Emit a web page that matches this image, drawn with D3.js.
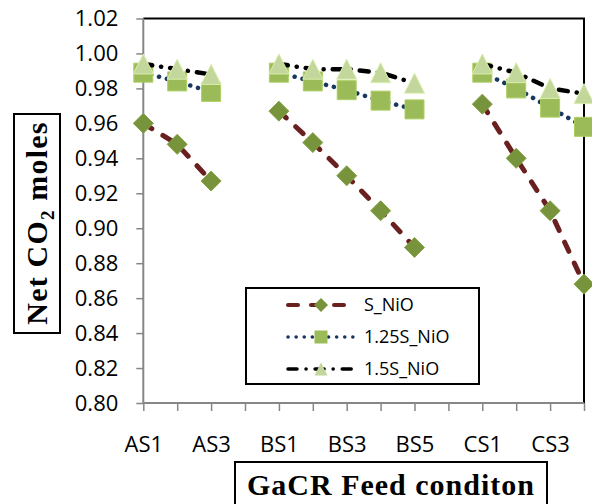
<!DOCTYPE html>
<html>
<head>
<meta charset="utf-8">
<script src="https://cdn.jsdelivr.net/npm/d3@7"></script>
<style>
  body { margin: 0; background: #fff; }
  svg { display: block; }
</style>
</head>
<body>
<div id="chart"></div>
<script>
// categories (blank slots separate the A, B and C groups)
const categories = ['AS1', 'AS2', 'AS3', '', 'BS1', 'BS2', 'BS3', 'BS4', 'BS5', ' ', 'CS1', 'CS2', 'CS3', 'CS4'];
const shownLabels = ['AS1', 'AS3', 'BS1', 'BS3', 'BS5', 'CS1', 'CS3'];
const sNiO = [0.960, 0.948, 0.927, null, 0.967, 0.949, 0.930, 0.910, 0.889, null, 0.971, 0.940, 0.910, 0.868];
const s125NiO = [0.989, 0.984, 0.978, null, 0.989, 0.984, 0.979, 0.973, 0.968, null, 0.989, 0.980, 0.969, 0.958];
const s15NiO = [0.994, 0.991, 0.988, null, 0.994, 0.991, 0.991, 0.989, 0.983, null, 0.994, 0.989, 0.980, 0.977];
const yTicks = [0.80, 0.82, 0.84, 0.86, 0.88, 0.90, 0.92, 0.94, 0.96, 0.98, 1.00, 1.02];

const w = 592;
const h = 504;
const plotLeft = 143.3, plotRight = 584, plotTop = 18.5, plotBottom = 403;

const svg = d3.select('#chart').append('svg')
  .attr('width', w)
  .attr('height', h);

const xScale = d3.scalePoint()
  .domain(categories)
  .range([plotLeft, plotRight])
  .padding(0);
const yScale = d3.scaleLinear()
  .domain([0.80, 1.02])
  .range([plotBottom, plotTop]);

// top and right border of the plot area
svg.append('path')
  .attr('d', `M${plotLeft},${plotTop}H${plotRight}V${plotBottom}`)
  .attr('fill', 'none')
  .attr('stroke', '#000')
  .attr('stroke-width', 2);

const xAxis = d3.axisBottom(xScale)
  .tickSize(8)
  .tickPadding(25)
  .tickFormat(d => shownLabels.includes(d) ? d : '');
const yAxis = d3.axisLeft(yScale)
  .tickValues(yTicks)
  .tickSize(7)
  .tickPadding(18)
  .tickFormat(d3.format('.2f'));

const gx = svg.append('g')
  .attr('transform', `translate(0, ${plotBottom})`)
  .call(xAxis);
const gy = svg.append('g')
  .attr('transform', `translate(${plotLeft}, 0)`)
  .call(yAxis);

[gx, gy].forEach(g => {
  g.select('.domain').attr('stroke', '#868686').attr('stroke-width', 2);
  g.selectAll('.tick line').attr('stroke', '#868686').attr('stroke-width', 1.5);
  g.selectAll('.tick text')
    .attr('fill', '#000')
    .style('font-family', '"Open Sans"')
    .style('font-size', '22px');
});
gx.select('.domain').attr('d', `M${plotLeft},0H${plotRight}`);
gy.select('.domain').attr('d', `M0,${plotBottom}V${plotTop}`);

const series = [
  { name: 'S_NiO', values: sNiO, stroke: '#6B2020', width: 5, dash: '10,13', marker: 'diamond', fill: '#77933C' },
  { name: '1.25S_NiO', values: s125NiO, stroke: '#17375E', width: 4.5, dash: '0.1,8', marker: 'square', fill: '#9BBB59' },
  { name: '1.5S_NiO', values: s15NiO, stroke: '#000', width: 4.5, dash: '9,9,0.1,9', marker: 'triangle', fill: '#C3D69B' }
];

function markerPath(type, s) {
  if (type === 'diamond') {
    return `M0,${-s}L${s},0L0,${s}L${-s},0Z`;
  }
  if (type === 'square') {
    return `M${-s},${-s}H${s}V${s}H${-s}Z`;
  }
  return `M0,${-s}L${s},${s}H${-s}Z`;
}

const line = d3.line()
  .defined(d => d.v != null)
  .x(d => xScale(d.c))
  .y(d => yScale(d.v));

series.forEach(s => {
  const pts = categories.map((c, i) => ({ c: c, v: s.values[i] }));
  const g = svg.append('g');
  g.append('path')
    .datum(pts)
    .attr('d', line)
    .attr('fill', 'none')
    .attr('stroke', s.stroke)
    .attr('stroke-width', s.width)
    .attr('stroke-linecap', 'round')
    .attr('stroke-dasharray', s.dash);
  const size = s.marker === 'diamond' ? 10 : (s.marker === 'square' ? 9.5 : 10);
  g.selectAll('path.mk')
    .data(pts.filter(d => d.v != null))
    .enter()
    .append('path')
    .attr('class', 'mk')
    .attr('transform', d => `translate(${xScale(d.c)}, ${yScale(d.v)})`)
    .attr('d', markerPath(s.marker, size))
    .attr('fill', s.fill)
    .attr('stroke', d3.color(s.fill).brighter(0.3))
    .attr('stroke-width', 1);
});

// legend
const legend = svg.append('g');
legend.append('rect')
  .attr('x', 246)
  .attr('y', 288)
  .attr('width', 233)
  .attr('height', 96)
  .attr('fill', '#fff')
  .attr('stroke', '#000')
  .attr('stroke-width', 2);
series.forEach((s, i) => {
  const y = 305 + i * 32;
  legend.append('line')
    .attr('x1', 288).attr('x2', 354)
    .attr('y1', y).attr('y2', y)
    .attr('stroke', s.stroke)
    .attr('stroke-width', s.width - 1)
    .attr('stroke-linecap', 'round')
    .attr('stroke-dasharray', s.dash);
  legend.append('path')
    .attr('transform', `translate(321, ${y})`)
    .attr('d', markerPath(s.marker, s.marker === 'diamond' ? 7 : 6.5))
    .attr('fill', s.fill);
  legend.append('text')
    .attr('x', 364)
    .attr('y', y)
    .attr('dy', '0.36em')
    .style('font-family', '"Open Sans"')
    .style('font-size', '18px')
    .text(s.name);
});

// axis titles in boxes
svg.append('rect')
  .attr('x', 14).attr('y', 114)
  .attr('width', 46).attr('height', 219)
  .attr('fill', 'none')
  .attr('stroke', '#000')
  .attr('stroke-width', 2);
const yTitle = svg.append('text')
  .attr('transform', 'translate(47, 223) rotate(-90)')
  .attr('text-anchor', 'middle')
  .style('font-family', 'Liberation Serif')
  .style('font-weight', 'bold')
  .style('font-size', '30px')
  .style('letter-spacing', '1.2px');
yTitle.append('tspan').text('Net CO');
yTitle.append('tspan').attr('dy', 7).style('font-size', '19px').text('2');
yTitle.append('tspan').attr('dy', -7).text(' moles');

svg.append('rect')
  .attr('x', 235).attr('y', 462)
  .attr('width', 312).attr('height', 50)
  .attr('fill', 'none')
  .attr('stroke', '#000')
  .attr('stroke-width', 2);
svg.append('text')
  .attr('x', 391)
  .attr('y', 495)
  .attr('text-anchor', 'middle')
  .style('font-family', 'Liberation Serif')
  .style('font-weight', 'bold')
  .style('font-size', '30px')
  .style('letter-spacing', '1px')
  .text('GaCR Feed conditon');
</script>
</body>
</html>
